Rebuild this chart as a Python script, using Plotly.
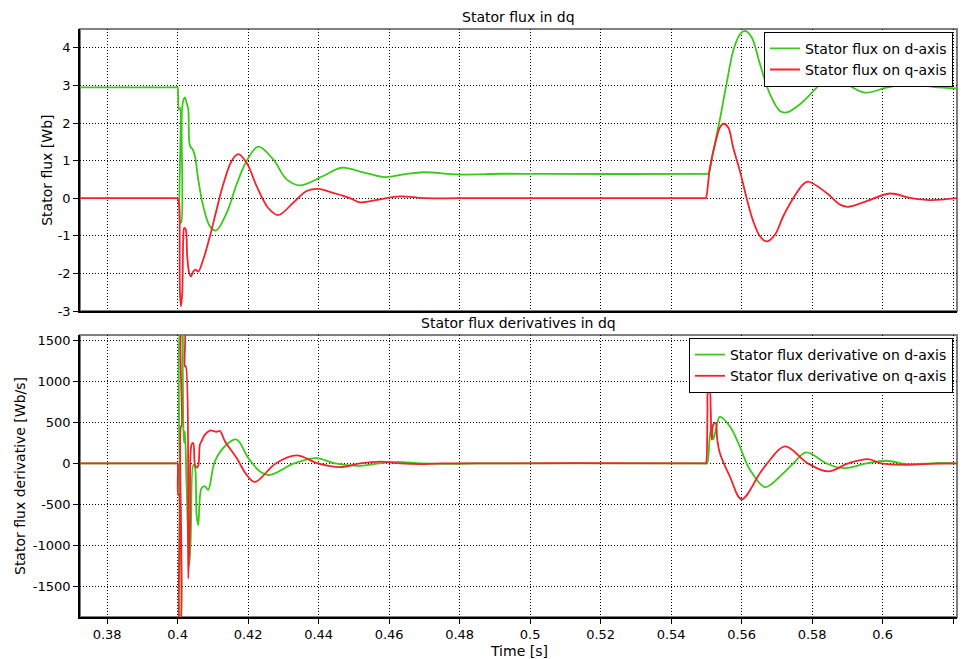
import plotly.graph_objects as go
from plotly.subplots import make_subplots

# ---------------------------------------------------------------------------
# Time axis
# ---------------------------------------------------------------------------
time_range = [0.3723, 0.6211]
time_ticks = [0.38, 0.40, 0.42, 0.44, 0.46, 0.48, 0.50, 0.52, 0.54, 0.56, 0.58, 0.60, 0.62]
time_tick_text = ["0.38", "0.4", "0.42", "0.44", "0.46", "0.48", "0.5",
                  "0.52", "0.54", "0.56", "0.58", "0.6", "0.62"]

# ---------------------------------------------------------------------------
# Stator flux on the d-axis [Wb]
# ---------------------------------------------------------------------------
flux_d_t = [0.3723, 0.3999, 0.4000, 0.40035, 0.40068, 0.40075, 0.40100, 0.40120,
            0.40165, 0.40207, 0.40250, 0.40301, 0.40349, 0.40426, 0.40491, 0.40584,
            0.40726, 0.40916, 0.41087, 0.41390, 0.41674, 0.41957, 0.42287, 0.42712,
            0.43092, 0.43470, 0.44131, 0.44652, 0.45260, 0.45881, 0.46450, 0.46967,
            0.4800, 0.4920, 0.5050, 0.5498, 0.5505, 0.55194, 0.55384, 0.55574,
            0.55762, 0.55952, 0.56094, 0.56284, 0.56519, 0.56803, 0.57086, 0.57277,
            0.57654, 0.58128, 0.58457, 0.58979, 0.59498, 0.60113, 0.60823, 0.61435,
            0.62099]
flux_d = [2.95, 2.95, 2.95, 2.35, 2.40, -0.65, -0.65, 2.30,
          2.62, 2.68, 2.55, 2.37, 1.39, 1.30, 1.12, 0.50,
          -0.21, -0.75, -0.86, -0.39, 0.37, 0.99, 1.37, 1.03,
          0.50, 0.34, 0.59, 0.81, 0.69, 0.56, 0.64, 0.69,
          0.63, 0.65, 0.645, 0.645, 0.645, 1.25, 2.10, 3.05,
          3.92, 4.36, 4.45, 4.28, 3.57, 2.77, 2.32, 2.28,
          2.50, 2.94, 3.25, 3.03, 2.81, 2.94, 3.05, 2.96,
          2.92]

# ---------------------------------------------------------------------------
# Stator flux on the q-axis [Wb]
# ---------------------------------------------------------------------------
flux_q_t = [0.3723, 0.3999, 0.4000, 0.40017, 0.40045, 0.40065, 0.40094, 0.40130,
            0.40159, 0.40187, 0.40227, 0.40272, 0.40329, 0.40377, 0.40443, 0.40511,
            0.40584, 0.40726, 0.40916, 0.41106, 0.41294, 0.41532, 0.41719, 0.41957,
            0.42241, 0.42570, 0.42854, 0.43279, 0.43660, 0.43989, 0.44414, 0.44888,
            0.45172, 0.4574, 0.46306, 0.4700, 0.4800, 0.5497, 0.54987, 0.55101,
            0.55243, 0.55384, 0.55478, 0.55620, 0.55762, 0.55952, 0.56142, 0.56329,
            0.56519, 0.56709, 0.56945, 0.57180, 0.57464, 0.57748, 0.57889, 0.58411,
            0.58789, 0.59024, 0.59546, 0.60207, 0.60775, 0.61342, 0.62099]
flux_q = [0.0, 0.0, 0.0, -0.05, -0.21, -2.52, -2.88, -2.52,
          -1.10, -0.79, -0.82, -1.55, -1.99, -2.08, -1.95, -1.90,
          -1.95, -1.63, -1.01, -0.30, 0.37, 0.99, 1.17, 0.94,
          0.32, -0.26, -0.45, -0.12, 0.19, 0.25, 0.14, 0.0,
          -0.11, -0.03, 0.05, 0.0, 0.0, 0.0, 0.0, 0.81,
          1.43, 1.88, 1.98, 1.88, 1.34, 0.72, 0.0, -0.61,
          -1.01, -1.15, -0.97, -0.48, 0.0, 0.37, 0.44, 0.14,
          -0.17, -0.23, -0.08, 0.125, 0.01, -0.05, 0.0]

# ---------------------------------------------------------------------------
# Stator flux derivative on the d-axis [Wb/s]
# ---------------------------------------------------------------------------
dflux_d_t = [0.3723, 0.3999, 0.4000, 0.40025, 0.4005, 0.40065, 0.4008, 0.40085,
             0.4012, 0.40145, 0.40165, 0.40185, 0.40207, 0.40254, 0.40329, 0.40368,
             0.40443, 0.40491, 0.40537, 0.40584, 0.40678, 0.40773, 0.40866, 0.41056,
             0.41390, 0.41674, 0.42004, 0.42335, 0.42620, 0.43300, 0.43943, 0.44460,
             0.45110, 0.45700, 0.46250, 0.46900, 0.47600, 0.4850, 0.5498, 0.55020,
             0.55097, 0.55149, 0.55194, 0.55288, 0.55384, 0.55668, 0.55903, 0.56142,
             0.56236, 0.56661, 0.57086, 0.57464, 0.57834, 0.58411, 0.58873, 0.59546,
             0.60103, 0.60700, 0.61500, 0.62099]
dflux_d = [0, 0, 0, -200, -350, -1950, -1950, 1650,
           1650, 1150, 390, 250, 390, -260, -1235, -950,
           -16, -50, -625, -750, -300, -280, -320, 25,
           230, 290, 66, -97, -140, 0, 65, 0,
           -30, 0, 18, 0, -6, 0, 0, 0,
           330, 450, 290, 450, 565, 450, 250, 0,
           -77, -288, -158, 0, 135, 0, -57, 0,
           33, -10, 5, 0]

# ---------------------------------------------------------------------------
# Stator flux derivative on the q-axis [Wb/s]
# ---------------------------------------------------------------------------
dflux_q_t = [0.3723, 0.3999, 0.4000, 0.40017, 0.4004, 0.40055, 0.4008, 0.40095,
             0.4011, 0.40125, 0.40190, 0.40207, 0.40230, 0.40301, 0.40349, 0.40396,
             0.40443, 0.40491, 0.40537, 0.40584, 0.40631, 0.40678, 0.40773, 0.40914,
             0.41106, 0.41200, 0.41342, 0.41674, 0.41957, 0.42193, 0.42780, 0.43374,
             0.43980, 0.44605, 0.45180, 0.45750, 0.46300, 0.46900, 0.47500, 0.5497,
             0.54987, 0.55030, 0.55052, 0.55092, 0.55120, 0.55149, 0.55194, 0.55262,
             0.55308, 0.55384, 0.55668, 0.55999, 0.56519, 0.56726, 0.57228, 0.57880,
             0.58457, 0.59020, 0.59592, 0.59960, 0.60681, 0.61300, 0.62099]
dflux_q = [0, 0, 0, -380, -380, -1950, -1950, 450,
           450, 1650, 1650, 1180, 1180, -1400, -707, 228,
           250, -16, -50, -30, 228, 270, 350, 400,
           385, 395, 270, 65, -138, -225, 0, 98,
           0, -45, 0, 22, 0, -8, 0, 0,
           0, 600, 880, 880, 695, 290, 470, 490,
           290, 125, -160, -435, -118, 0, 207, 0,
           -97, 0, 53, 0, -16, -5, 0]

# Axis ticks
flux_ticks = [-3, -2, -1, 0, 1, 2, 3, 4]
flux_tick_text = ["-3", "-2", "-1", "0", "1", "2", "3", "4"]
dflux_ticks = [-1500, -1000, -500, 0, 500, 1000, 1500]
dflux_tick_text = ["-1500", "-1000", "-500", "0", "500", "1000", "1500"]

GREEN = "#3cc81a"
RED = "#f5222d"
FONT = "DejaVu Sans"

fig = make_subplots(rows=2, cols=1, shared_xaxes=True, vertical_spacing=24 / 588)

line_kw = dict(shape="spline", smoothing=1.0, width=1.8)

fig.add_trace(go.Scatter(x=flux_d_t, y=flux_d, mode="lines", name="Stator flux on d-axis",
                         line=dict(color=GREEN, **line_kw), legend="legend"), row=1, col=1)
fig.add_trace(go.Scatter(x=flux_q_t, y=flux_q, mode="lines", name="Stator flux on q-axis",
                         line=dict(color=RED, **line_kw), legend="legend"), row=1, col=1)
fig.add_trace(go.Scatter(x=dflux_d_t, y=dflux_d, mode="lines",
                         name="Stator flux derivative on d-axis",
                         line=dict(color=GREEN, **line_kw), legend="legend2"), row=2, col=1)
fig.add_trace(go.Scatter(x=dflux_q_t, y=dflux_q, mode="lines",
                         name="Stator flux derivative on q-axis",
                         line=dict(color=RED, **line_kw), legend="legend2"), row=2, col=1)

grid_kw = dict(showgrid=True, gridcolor="#000000", griddash="1px,2px", gridwidth=1,
               zeroline=False, showline=True, linecolor="black", linewidth=1.5)
tick_font = dict(family=FONT, size=13, color="black")

fig.update_xaxes(range=time_range, tickvals=time_ticks, ticktext=time_tick_text, **grid_kw)
fig.update_xaxes(showticklabels=False, ticks="", row=1, col=1)
fig.update_xaxes(ticks="outside", ticklen=5, tickcolor="black", tickfont=tick_font, row=2, col=1)

fig.update_yaxes(range=[-3, 4.5], tickvals=flux_ticks, ticktext=flux_tick_text,
                 ticks="outside", ticklen=5, tickcolor="black", tickfont=tick_font,
                 domain=[0.5204, 1.0], row=1, col=1, **grid_kw)
fig.update_yaxes(range=[-1866, 1561], tickvals=dflux_ticks, ticktext=dflux_tick_text,
                 ticks="outside", ticklen=5, tickcolor="black", tickfont=tick_font,
                 domain=[0.0, 0.4796], row=2, col=1, **grid_kw)

# Gray frame around each plot area
for xr, yr in (("x domain", "y domain"), ("x2 domain", "y2 domain")):
    fig.add_shape(type="rect", xref=xr, yref=yr, x0=0, x1=1, y0=0, y1=1,
                  line=dict(color="#808080", width=2), layer="below")

legend_common = dict(xanchor="right", yanchor="top", bgcolor="white",
                     bordercolor="black", borderwidth=1,
                     font=dict(family=FONT, size=14, color="black"),
                     itemwidth=30, tracegroupgap=0)

text_font = dict(family=FONT, size=14, color="black")
fig.update_layout(
    width=966, height=659,
    margin=dict(l=80, r=9, t=29, b=42),
    paper_bgcolor="white", plot_bgcolor="white",
    font=text_font,
    legend=dict(x=0.9954, y=0.9954, **legend_common),
    legend2=dict(x=0.9954, y=0.4745, **legend_common),
    annotations=[
        dict(text="Stator flux in dq", x=0.5, y=1.0204, xref="paper", yref="paper",
             xanchor="center", yanchor="middle", showarrow=False, font=text_font),
        dict(text="Stator flux derivatives in dq", x=0.5, y=0.5, xref="paper", yref="paper",
             xanchor="center", yanchor="middle", showarrow=False, font=text_font),
        dict(text="Time [s]", x=0.5, y=-0.0578, xref="paper", yref="paper",
             xanchor="center", yanchor="middle", showarrow=False, font=text_font),
        dict(text="Stator flux [Wb]", x=-0.038, y=0.760, xref="paper", yref="paper",
             xanchor="center", yanchor="middle", textangle=-90, showarrow=False,
             font=text_font),
        dict(text="Stator flux derivative [Wb/s]", x=-0.0684, y=0.2398,
             xref="paper", yref="paper", xanchor="center", yanchor="middle",
             textangle=-90, showarrow=False, font=text_font),
    ],
)

fig.write_html("out.html")
